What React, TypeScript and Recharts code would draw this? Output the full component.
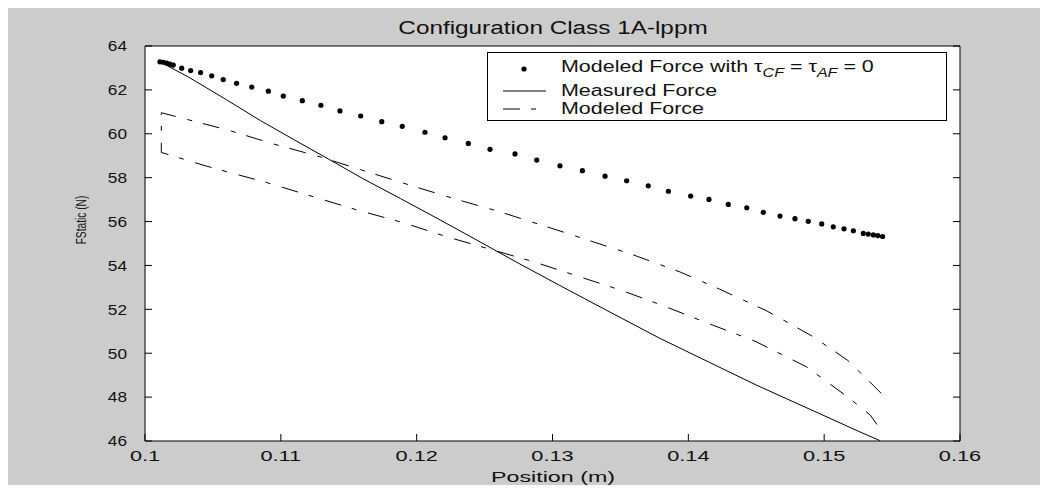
import React from "react";
import { CartesianGrid, ComposedChart, Line, XAxis, YAxis } from "recharts";

const W = 1043;
const H = 477;
const FONT = '"Liberation Sans", Arial, sans-serif';

const xTicks = [0.1, 0.11, 0.12, 0.13, 0.14, 0.15, 0.16];
const yTicks = [46, 48, 50, 52, 54, 56, 58, 60, 62, 64];

// Modeled Force with tau_CF = tau_AF = 0 (dots only)
const idealX = [
  0.1011, 0.10135, 0.1016, 0.10184, 0.10208, 0.1027, 0.10336, 0.10409, 0.10491, 0.10576,
  0.10674, 0.10786, 0.10908, 0.11018, 0.11158, 0.11295, 0.11435, 0.11588, 0.11743, 0.11894,
  0.12061, 0.12209, 0.1238, 0.1254, 0.12724, 0.12884, 0.13055, 0.1322, 0.13387, 0.13546,
  0.13705, 0.13853, 0.14017, 0.14152, 0.14294, 0.1443, 0.14552, 0.14675, 0.14785, 0.14883,
  0.14982, 0.15067, 0.15146, 0.15215, 0.15288, 0.15325, 0.15362, 0.15395, 0.1543,
];
const idealY = [
  63.28, 63.26, 63.22, 63.17, 63.13, 62.99, 62.88, 62.79, 62.64, 62.47,
  62.3, 62.13, 61.94, 61.72, 61.51, 61.3, 61.04, 60.81, 60.55, 60.34,
  60.07, 59.82, 59.56, 59.29, 59.08, 58.8, 58.54, 58.32, 58.07, 57.86,
  57.63, 57.38, 57.16, 57.01, 56.78, 56.63, 56.42, 56.25, 56.13, 56.01,
  55.89, 55.76, 55.67, 55.58, 55.46, 55.43, 55.39, 55.36, 55.32,
];

// Measured Force
const measuredX = [
  0.1011, 0.1033, 0.106, 0.1085, 0.111, 0.1135, 0.116, 0.1188, 0.1215, 0.1245,
  0.1275, 0.1305, 0.134, 0.1379, 0.1415, 0.145, 0.1499, 0.1525, 0.1541,
];
const measuredY = [
  63.28, 62.55, 61.55, 60.6, 59.72, 58.85, 57.97, 57.05, 56.15, 55.13,
  54.1, 53.1, 51.95, 50.68, 49.6, 48.55, 47.18, 46.45, 46.02,
];

// Modeled Force: upper branch and lower branch of the loop
const upperX = [
  0.1012, 0.1061, 0.1095, 0.1129, 0.1161, 0.1197, 0.123, 0.1261, 0.1311, 0.136,
  0.1394, 0.1423, 0.1458, 0.1492, 0.1517, 0.1531, 0.1542,
];
const upperY = [
  60.96, 60.17, 59.53, 58.95, 58.32, 57.62, 57.0, 56.45, 55.46, 54.47,
  53.7, 52.92, 51.92, 50.75, 49.69, 48.85, 48.17,
];
const lowerX = [
  0.1012, 0.1045, 0.109, 0.1124, 0.1156, 0.119, 0.1222, 0.1286, 0.135, 0.138,
  0.1418, 0.1449, 0.1487, 0.1517, 0.1534, 0.154,
];
const lowerY = [
  59.15, 58.53, 57.77, 57.13, 56.53, 55.95, 55.31, 54.17, 52.88, 52.2,
  51.28, 50.55, 49.38, 48.02, 47.18, 46.65,
];

const toPoints = (xs: number[], ys: number[]) => xs.map((x, i) => ({ x, y: ys[i] }));

const idealData = toPoints(idealX, idealY);
const measuredData = toPoints(measuredX, measuredY);
// right end of upper branch -> left end -> down -> lower branch to the right
const modeledData = [...toPoints(upperX, upperY).reverse(), ...toPoints(lowerX, lowerY)];

const DASH_DOT = "17 11 5 12";

const XTick = (props: any) => {
  const { x, y, payload } = props;
  return (
    <text
      transform={`translate(${x},${y}) scale(1.45,1)`}
      dy="0.71em"
      textAnchor="middle"
      fontFamily={FONT}
      fontSize={15}
      fill="#111"
    >
      {String(payload.value)}
    </text>
  );
};

const YTick = (props: any) => {
  const { x, y, payload } = props;
  return (
    <text
      transform={`translate(${x},${y}) scale(1.15,1)`}
      dy="0.355em"
      textAnchor="end"
      fontFamily={FONT}
      fontSize={15}
      fill="#111"
    >
      {String(payload.value)}
    </text>
  );
};

const Stretch: React.FC<{ left: number; top: number; size: number; sx?: number; rotate?: boolean; children: React.ReactNode }> = ({
  left,
  top,
  size,
  sx = 1.35,
  rotate,
  children,
}) => (
  <div
    style={{
      position: "absolute",
      left,
      top,
      whiteSpace: "nowrap",
      fontFamily: FONT,
      fontSize: size,
      lineHeight: 1,
      color: "#111",
      transform: rotate
        ? `translate(-50%,-50%) rotate(-90deg) scaleX(${sx})`
        : `translate(-50%,-50%) scaleX(${sx})`,
    }}
  >
    {children}
  </div>
);

const LegendBox = () => (
  <div
    style={{
      position: "absolute",
      left: 482,
      top: 44,
      width: 460,
      height: 69,
      boxSizing: "border-box",
      background: "#fff",
      border: "1px solid #000",
      fontFamily: FONT,
      fontSize: 16,
      color: "#111",
    }}
  >
    <svg width={70} height={69} style={{ position: "absolute", left: 0, top: 0 }}>
      <circle cx={36} cy={16} r={2.6} fill="#000" />
      <line x1={15} x2={58} y1={38} y2={38} stroke="#000" strokeWidth={1} />
      <line x1={15} x2={48} y1={56} y2={56} stroke="#000" strokeWidth={1} strokeDasharray={DASH_DOT} />
    </svg>
    {[
      {
        top: 16,
        label: (
          <>
            Modeled Force with τ<sub style={{ fontStyle: "italic", fontSize: 12 }}>CF</sub> = τ
            <sub style={{ fontStyle: "italic", fontSize: 12 }}>AF</sub> = 0
          </>
        ),
      },
      { top: 38, label: <>Measured Force</> },
      { top: 56, label: <>Modeled Force</> },
    ].map((row, i) => (
      <div
        key={i}
        style={{
          position: "absolute",
          left: 73,
          top: row.top,
          whiteSpace: "nowrap",
          lineHeight: 1,
          transformOrigin: "0 50%",
          transform: "translateY(-50%) scaleX(1.34)",
        }}
      >
        {row.label}
      </div>
    ))}
  </div>
);

export default function App() {
  return (
    <div style={{ position: "relative", width: W, height: H, marginLeft: -3, background: "#cccccc" }}>
      <ComposedChart width={W} height={H} margin={{ top: 37, right: 87, bottom: 14, left: 80 }}>
        <CartesianGrid xAxisId="x" yAxisId="y" horizontal={false} vertical={false} fill="#fff" />
        <XAxis
          xAxisId="x"
          dataKey="x"
          type="number"
          domain={[0.1, 0.16]}
          ticks={xTicks}
          allowDataOverflow
          height={30}
          tickSize={-7}
          tickMargin={16}
          tick={(p: any) => <XTick {...p} />}
          stroke="#000"
          interval={0}
        />
        <XAxis
          xAxisId="top"
          orientation="top"
          type="number"
          domain={[0.1, 0.16]}
          ticks={xTicks}
          allowDataOverflow
          height={1}
          tickSize={-6}
          tickFormatter={() => ""}
          stroke="#000"
          interval={0}
        />
        <YAxis
          yAxisId="y"
          type="number"
          domain={[46, 64]}
          ticks={yTicks}
          allowDataOverflow
          width={60}
          tickSize={-7}
          tickMargin={25}
          tick={(p: any) => <YTick {...p} />}
          stroke="#000"
          interval={0}
        />
        <YAxis
          yAxisId="right"
          orientation="right"
          type="number"
          domain={[46, 64]}
          ticks={yTicks}
          allowDataOverflow
          width={1}
          tickSize={-7}
          tickFormatter={() => ""}
          stroke="#000"
          interval={0}
        />
        <Line
          xAxisId="x"
          yAxisId="y"
          data={measuredData}
          dataKey="y"
          type="linear"
          stroke="#000"
          strokeWidth={1}
          dot={false}
          activeDot={false}
          isAnimationActive={false}
        />
        <Line
          xAxisId="x"
          yAxisId="y"
          data={modeledData}
          dataKey="y"
          type="linear"
          stroke="#000"
          strokeWidth={1}
          strokeDasharray={DASH_DOT}
          dot={false}
          activeDot={false}
          isAnimationActive={false}
        />
        <Line
          xAxisId="x"
          yAxisId="y"
          data={idealData}
          dataKey="y"
          type="linear"
          stroke="none"
          dot={{ r: 2.6, fill: "#000", stroke: "none" }}
          activeDot={false}
          isAnimationActive={false}
        />
      </ComposedChart>
      <Stretch left={547.5} top={20} size={18}>
        Configuration Class 1A-lppm
      </Stretch>
      <Stretch left={547.5} top={468} size={15} sx={1.55}>
        Position (m)
      </Stretch>
      <Stretch left={75} top={212} size={15} sx={0.68} rotate>
        FStatic (N)
      </Stretch>
      <LegendBox />
    </div>
  );
}
